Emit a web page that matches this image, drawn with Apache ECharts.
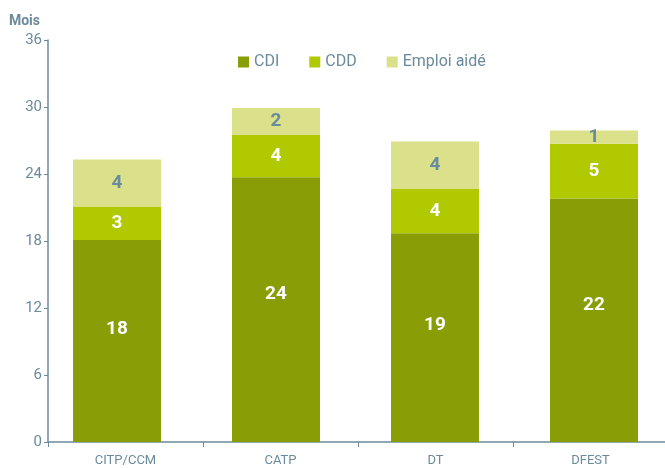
<!DOCTYPE html>
<html>
<head>
<meta charset="utf-8">
<script src="https://cdn.jsdelivr.net/npm/echarts@6/dist/echarts.min.js"></script>
<style>
  html, body { margin: 0; padding: 0; background: #fff; }
  #chart { width: 665px; height: 468px; }
</style>
</head>
<body>
<div id="chart"></div>
<script>
// durées en mois
const categories = ['CITP/CCM', 'CATP', 'DT', 'DFEST']
const cdi = [18.1, 23.7, 18.7, 21.8]
const cdd = [3.0, 3.8, 4.0, 4.9]
const emploiAide = [4.2, 2.4, 4.2, 1.2]
const yTicks = [0, 6, 12, 18, 24, 30, 36]

const axisColor = '#6b8a9b'
const fontFam = 'Roboto, sans-serif'

function barSeries(name, data, color, labelColor, pos) {
  return {
    name: name,
    type: 'bar',
    stack: 'total',
    xAxisIndex: 1,
    yAxisIndex: 1,
    barWidth: 88,
    data: data,
    itemStyle: { color: color },
    label: {
      show: true,
      position: pos,
      align: 'center',
      verticalAlign: 'middle',
      color: labelColor,
      fontSize: 19,
      fontWeight: 'bold',
      fontFamily: fontFam,
      formatter: (p) => Math.round(p.value)
    }
  }
}

const myChart = echarts.init(document.getElementById('chart'))
myChart.setOption({
  animation: false,
  textStyle: { fontFamily: fontFam },
  legend: {
    top: 49,
    left: 233,
    itemWidth: 11,
    itemHeight: 11,
    itemGap: 30,
    icon: 'rect',
    textStyle: { color: axisColor, fontSize: 16, fontFamily: fontFam },
    data: ['CDI', 'CDD', 'Emploi aidé']
  },
  // grille visible (axes) et grille des barres, légèrement décalée comme l'original
  grid: [
    { left: 48, width: 620, top: 40, bottom: 26, containLabel: false, outerBoundsMode: 'none' },
    { left: 37.5, width: 636, top: 40, bottom: 26, containLabel: false, outerBoundsMode: 'none' }
  ],
  xAxis: [{
    type: 'category',
    gridIndex: 0,
    data: categories,
    axisLine: { lineStyle: { color: axisColor, width: 1.5 } },
    axisTick: { show: true, length: 5, lineStyle: { color: axisColor } },
    axisLabel: { color: axisColor, fontSize: 13, margin: 12, fontFamily: fontFam }
  }, {
    type: 'category',
    gridIndex: 1,
    data: categories,
    show: false
  }],
  yAxis: [{
    type: 'value',
    gridIndex: 0,
    min: yTicks[0],
    max: yTicks[yTicks.length - 1],
    interval: 6,
    name: 'Mois',
    nameLocation: 'end',
    nameGap: 12,
    nameTextStyle: { color: axisColor, fontSize: 14, fontWeight: 'bold', align: 'right', padding: [0, 8, 0, 0], fontFamily: fontFam },
    axisLine: { show: true, lineStyle: { color: axisColor, width: 1.5 } },
    axisTick: { show: true, length: 4, lineStyle: { color: axisColor } },
    axisLabel: { color: axisColor, fontSize: 15, margin: 6, fontFamily: fontFam },
    splitLine: { show: false }
  }, {
    type: 'value',
    gridIndex: 1,
    min: yTicks[0],
    max: yTicks[yTicks.length - 1],
    interval: 6,
    show: false,
    splitLine: { show: false }
  }],
  series: [
    barSeries('CDI', cdi, '#889d06', '#ffffff', ['50%', '44%']),
    barSeries('CDD', cdd, '#b1c900', '#ffffff', ['50%', '50%']),
    barSeries('Emploi aidé', emploiAide, '#dbe08a', '#6b8a9b', ['50%', '50%'])
  ]
})
</script>
</body>
</html>
